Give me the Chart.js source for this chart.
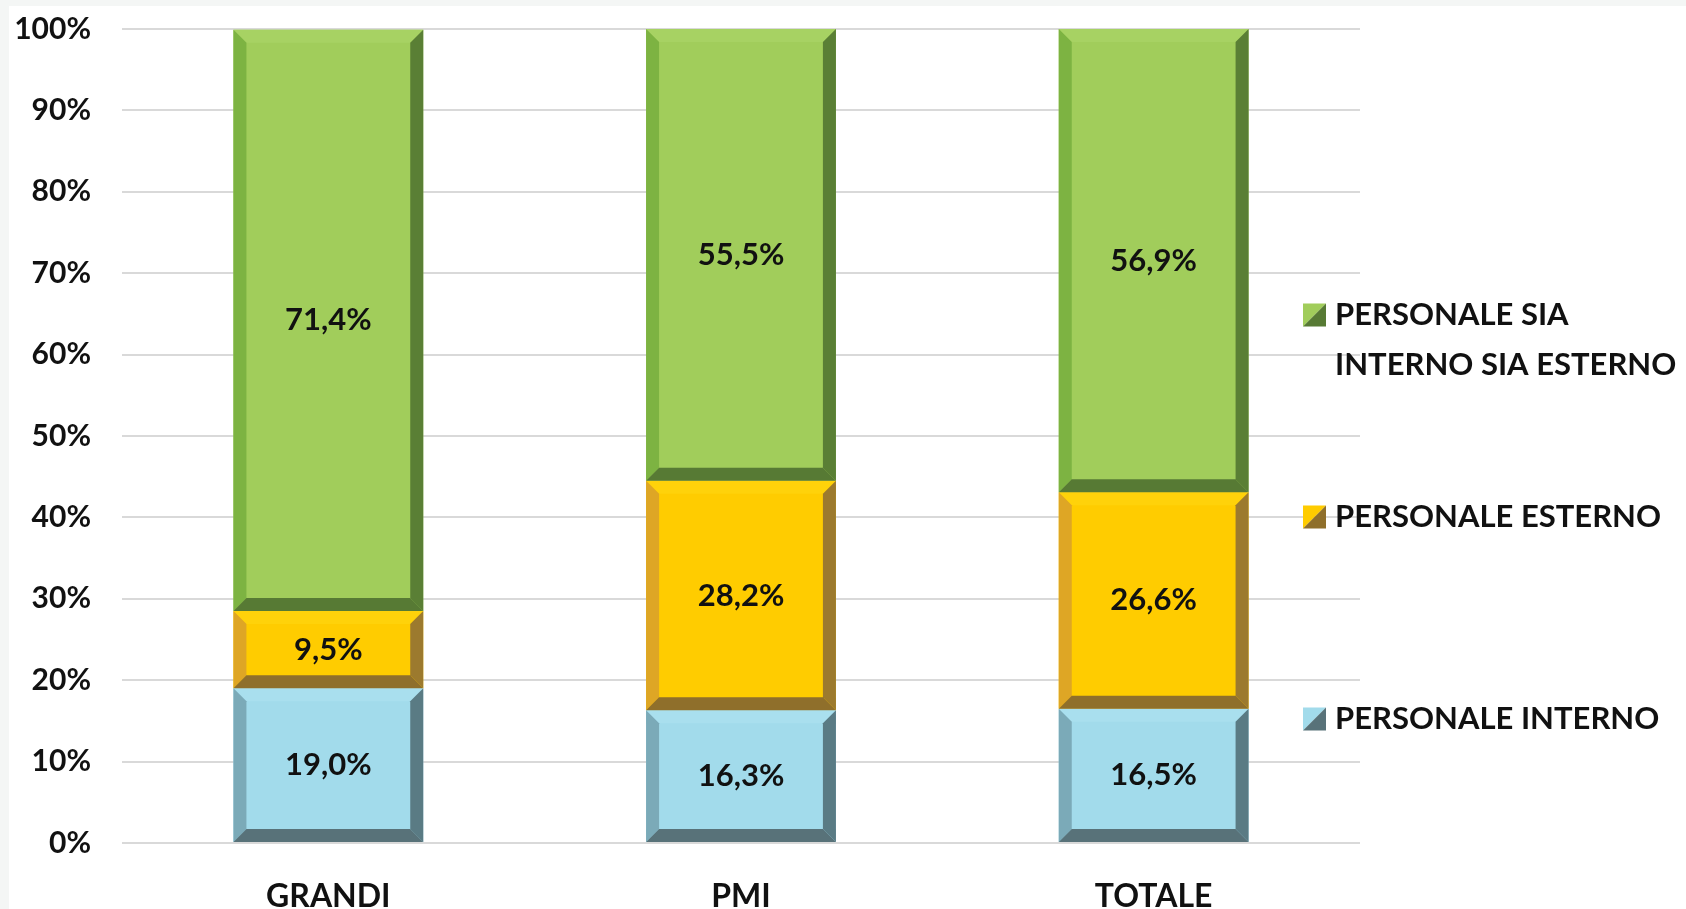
<!DOCTYPE html>
<html>
<head>
<meta charset="utf-8">
<script src="https://cdn.jsdelivr.net/npm/chart.js@4.4.1/dist/chart.umd.min.js"></script>
<style>
  html, body { margin: 0; padding: 0; background: #f4f6f5; }
  #wrap { width: 1686px; height: 909px; }
</style>
</head>
<body>
<div id="wrap"><canvas id="shareChart" width="1686" height="909"></canvas></div>
<script>
const categories = ['GRANDI', 'PMI', 'TOTALE'];
const interno = [19.0, 16.3, 16.5];
const esterno = [9.5, 28.2, 26.6];
const siaInternoSiaEsterno = [71.4, 55.5, 56.9];
const yTicks = [0, 10, 20, 30, 40, 50, 60, 70, 80, 90, 100];

const FONT = 'Lato, "Open Sans", sans-serif';

// colori: principale, lato sinistro, lato destro, fondo, cima
const palette = {
  interno: { main: '#a2dbeb', left: '#7baab8', right: '#5a7b84', bottom: '#587279', top: '#a9dfee' },
  esterno: { main: '#ffcc00', left: '#dea625', right: '#9c7a2e', bottom: '#8f6f2b', top: '#ffd20a' },
  sia: { main: '#a1cd5b', left: '#7db342', right: '#5a7f35', bottom: '#577a34', top: '#a7d263' }
};

const formatPct = (v) => v.toFixed(1).replace('.', ',') + '%';

// sfondo grigio con area bianca
const backgroundPlugin = {
  id: 'background',
  beforeDraw: (chart) => {
    const ctx = chart.ctx;
    ctx.save();
    ctx.fillStyle = '#f4f6f5';
    ctx.fillRect(0, 0, chart.width, chart.height);
    ctx.fillStyle = '#ffffff';
    ctx.fillRect(9, 6, chart.width - 9, chart.height - 6);
    ctx.restore();
  }
};

// effetto rilievo delle barre + etichette
const bevelPlugin = {
  id: 'bevel',
  afterDatasetsDraw: (chart) => {
    const ctx = chart.ctx;
    const b = 13;
    const poly = (pts, color) => {
      ctx.beginPath();
      ctx.moveTo(pts[0][0], pts[0][1]);
      for (let i = 1; i < pts.length; i++) ctx.lineTo(pts[i][0], pts[i][1]);
      ctx.closePath();
      ctx.fillStyle = color;
      ctx.fill();
    };
    ctx.save();
    chart.data.datasets.forEach((ds, di) => {
      const meta = chart.getDatasetMeta(di);
      const c = ds.bevel;
      meta.data.forEach((bar, i) => {
        const L = bar.x - bar.width / 2;
        const R = bar.x + bar.width / 2;
        const T = Math.min(bar.y, bar.base);
        const B = Math.max(bar.y, bar.base);
        poly([[L, T], [R, T], [R - b, T + b], [L + b, T + b]], c.top);
        poly([[L, T], [L + b, T + b], [L + b, B - b], [L, B]], c.left);
        poly([[R, T], [R, B], [R - b, B - b], [R - b, T + b]], c.right);
        poly([[L, B], [L + b, B - b], [R - b, B - b], [R, B]], c.bottom);

        ctx.fillStyle = '#111111';
        ctx.font = 'bold 31px ' + FONT;
        ctx.textAlign = 'center';
        ctx.textBaseline = 'middle';
        ctx.fillText(formatPct(ds.data[i]), bar.x, (T + B) / 2);
      });
    });
    ctx.restore();
  }
};

// legenda a destra
const legendPlugin = {
  id: 'sideLegend',
  afterDraw: (chart) => {
    const ctx = chart.ctx;
    const items = [
      { lines: ['PERSONALE SIA', 'INTERNO SIA ESTERNO'], c: palette.sia, y: 315 },
      { lines: ['PERSONALE ESTERNO'], c: palette.esterno, y: 517 },
      { lines: ['PERSONALE INTERNO'], c: palette.interno, y: 719 }
    ];
    const x0 = 1303, s = 23;
    ctx.save();
    ctx.font = 'bold 31px ' + FONT;
    ctx.textBaseline = 'middle';
    ctx.textAlign = 'left';
    items.forEach((it) => {
      const top = it.y - s / 2;
      ctx.fillStyle = it.c.main;
      ctx.beginPath();
      ctx.moveTo(x0, top); ctx.lineTo(x0 + s, top); ctx.lineTo(x0, top + s); ctx.closePath();
      ctx.fill();
      ctx.fillStyle = it.c.bottom;
      ctx.beginPath();
      ctx.moveTo(x0 + s, top); ctx.lineTo(x0 + s, top + s); ctx.lineTo(x0, top + s); ctx.closePath();
      ctx.fill();
      ctx.fillStyle = '#111111';
      it.lines.forEach((line, li) => {
        ctx.fillText(line, 1335, it.y + li * 50);
      });
    });
    ctx.restore();
  }
};

new Chart('shareChart', {
  type: 'bar',
  data: {
    labels: categories,
    datasets: [
      { label: 'PERSONALE INTERNO', data: interno, backgroundColor: palette.interno.main, bevel: palette.interno },
      { label: 'PERSONALE ESTERNO', data: esterno, backgroundColor: palette.esterno.main, bevel: palette.esterno },
      { label: 'PERSONALE SIA INTERNO SIA ESTERNO', data: siaInternoSiaEsterno, backgroundColor: palette.sia.main, bevel: palette.sia }
    ]
  },
  options: {
    responsive: false,
    devicePixelRatio: 1,
    animation: false,
    layout: { padding: { top: 29, right: 326, bottom: 0, left: 0 } },
    datasets: { bar: { categoryPercentage: 1, barPercentage: 0.46, borderWidth: 0 } },
    plugins: {
      legend: { display: false },
      tooltip: { enabled: false }
    },
    scales: {
      x: {
        stacked: true,
        grid: { display: false },
        border: { display: false },
        ticks: { color: '#111111', font: { family: FONT, size: 32, weight: 'bold' }, padding: 26 },
        afterFit: (scale) => {
          scale.height = 66;
          scale.paddingLeft = 0;
          scale.paddingRight = 0;
        }
      },
      y: {
        stacked: true,
        min: 0,
        max: 100,
        afterBuildTicks: (scale) => { scale.ticks = yTicks.map((v) => ({ value: v })); },
        grid: { color: '#d9d9d9', lineWidth: 2, drawTicks: false },
        border: { display: false },
        ticks: {
          color: '#111111',
          font: { family: FONT, size: 30, weight: 'bold' },
          padding: 31,
          callback: (v) => v + '%'
        },
        afterFit: (scale) => {
          scale.width = 122;
          scale.paddingTop = 0;
          scale.paddingBottom = 0;
        }
      }
    }
  },
  plugins: [backgroundPlugin, bevelPlugin, legendPlugin]
});
</script>
</body>
</html>
